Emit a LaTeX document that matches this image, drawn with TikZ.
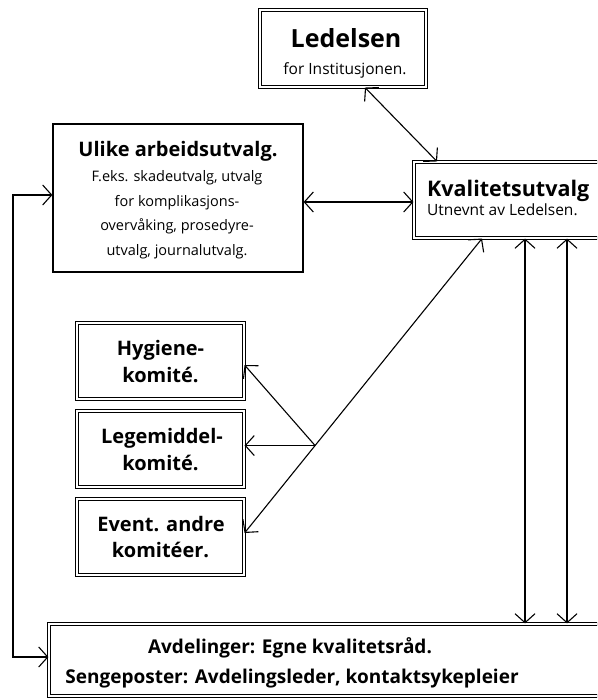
\documentclass[tikz,border=0pt]{standalone}
\usepackage{fontspec}
\setmainfont{Open Sans}
\usetikzlibrary{arrows.meta,calc}
\tikzset{
  dbox/.style={draw, double, line width=1.1pt, double distance=1.5pt, fill=white, inner sep=0pt},
  sbox/.style={draw, line width=1.2pt, fill=white, inner sep=0pt},
  conn/.style={line width=1.1pt, arrows={Straight Barb[length=9pt,width=20pt]-Straight Barb[length=9pt,width=20pt]}},
  conn1/.style={line width=1.1pt, arrows={-Straight Barb[length=9pt,width=20pt]}},
  txt/.style={anchor=base, inner sep=0pt},
  ttl/.style={txt, font=\bfseries\fontsize{20}{24}\selectfont},
  sub/.style={txt, font=\fontsize{14.5}{18}\selectfont},
  bt/.style={txt, font=\bfseries\fontsize{19}{22}\selectfont},
}
\begin{document}
\begin{tikzpicture}[x=1pt,y=-1pt]
\useasboundingbox (0,0) rectangle (597,700);
\clip (0,0) rectangle (597,700);
% boxes
\node[dbox, minimum width=166pt, minimum height=77pt] (led) at (343,48.5) {};
\node[txt, font=\bfseries\fontsize{25}{30}\selectfont] (led1) at (346,48) {Ledelsen};
\node[txt, font=\fontsize{15.5}{18}\selectfont] (led2) at (345,75) {for Institusjonen.};

\node[sbox, minimum width=250pt, minimum height=148pt] (ul) at (178,198) {};
\node[ttl] (ul1) at (178,157) {Ulike arbeidsutvalg.};
\node[sub] (ul2) at (177,182) {F.eks. skadeutvalg, utvalg};
\node[sub] (ul3) at (177,206.5) {for komplikasjons-};
\node[sub] (ul4) at (177,231) {overvåking, prosedyre-};
\node[sub] (ul5) at (177,255.5) {utvalg, journalutvalg.};

\node[dbox, minimum width=226pt, minimum height=76pt] (kv) at (527,200) {};
\node[txt, anchor=base west, font=\bfseries\fontsize{21.5}{24}\selectfont] (kv1) at (427,197) {Kvalitetsutvalg};
\node[txt, anchor=base west, font=\fontsize{15.5}{18}\selectfont] (kv2) at (427,216) {Utnevnt av Ledelsen.};

\node[dbox, minimum width=167pt, minimum height=76pt] (hy) at (160.5,361) {};
\node[ttl] (hy1) at (160.5,355) {Hygiene-};
\node[ttl] (hy2) at (160.5,382) {komité.};
\node[dbox, minimum width=167pt, minimum height=76pt] (lm) at (160.5,449) {};
\node[ttl] (lm1) at (162,443) {Legemiddel-};
\node[ttl] (lm2) at (160.5,470) {komité.};
\node[dbox, minimum width=167pt, minimum height=76pt] (ev) at (160.5,537) {};
\node[ttl] (ev1) at (161,531) {Event. andre};
\node[ttl] (ev2) at (160.5,557) {komitéer.};

\node[dbox, minimum width=591pt, minimum height=72pt] (bot) at (344.5,660) {};
\node[bt] (bot1) at (290,653) {Avdelinger: Egne kvalitetsråd.};
\node[bt] (bot2) at (292,683) {Sengeposter: Avdelingsleder, kontaktsykepleier};
% connectors
\draw[conn] (365,0 |- led.south) -- (437,0 |- kv.north);
\draw[conn] (ul.east |- 0,202) -- (kv.west |- 0,202);
\draw[conn] (ul.west |- 0,195) -| (13,420) |- (bot.west |- 0,657);
\draw[conn] (525,0 |- kv.south) -- (525,0 |- bot.north);
\draw[conn] (567,0 |- kv.south) -- (567,0 |- bot.north);
\coordinate (kvd) at (482,0 |- kv.south);
\coordinate (evp) at (ev.east |- 0,533);
\draw[conn] (kvd) -- (evp);
\coordinate (j) at ($(kvd)!0.703!(evp)$);
\draw[conn1] (j) -- (hy.east |- 0,365);
\draw[conn1] (j) -- (lm.east |- j);
\end{tikzpicture}
\end{document}
